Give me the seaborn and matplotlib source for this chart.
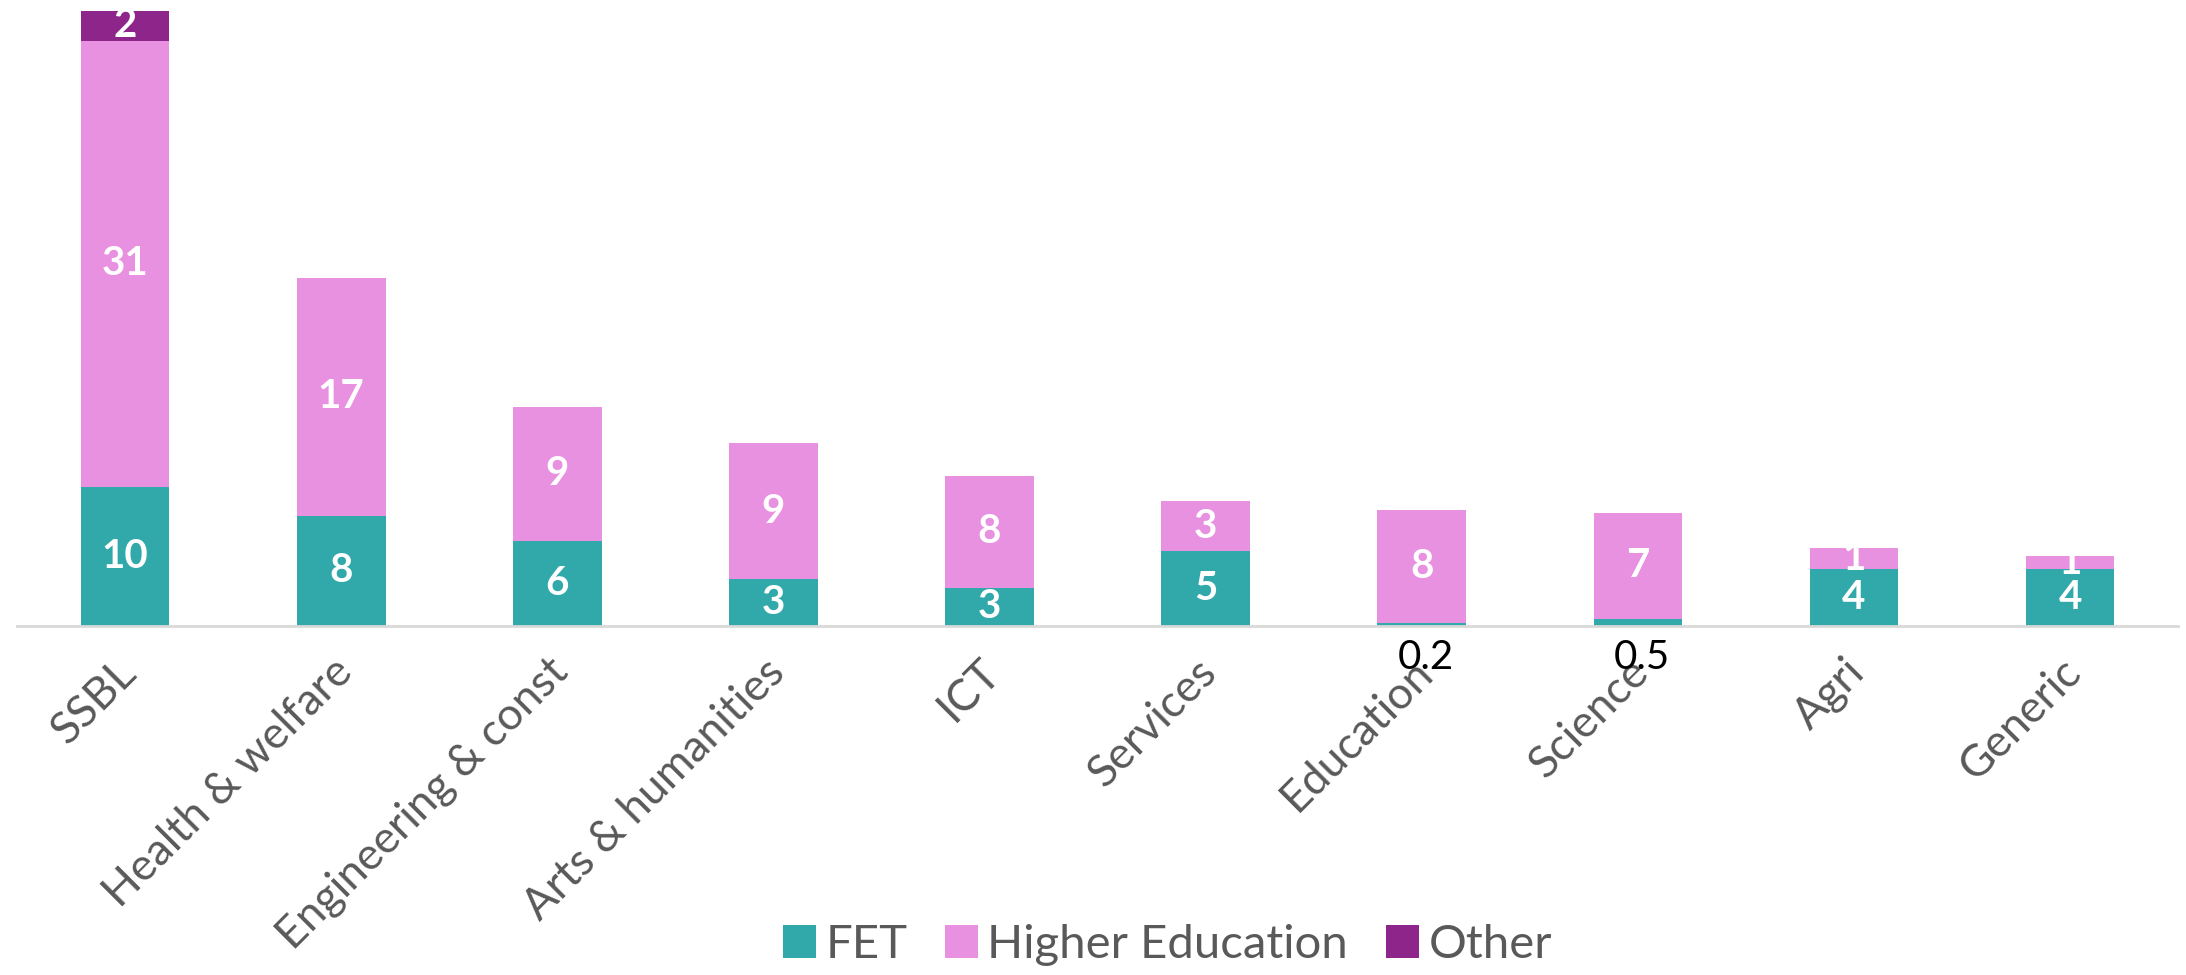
import matplotlib
matplotlib.use("Agg")
import matplotlib.pyplot as plt
import matplotlib.transforms as mtransforms
from matplotlib.patches import Patch
import seaborn as sns
import pandas as pd
import numpy as np

categories = ["SSBL", "Health & welfare", "Engineering & const", "Arts & humanities",
              "ICT", "Services", "Education", "Science", "Agri", "Generic"]
fet = [9.7, 7.7, 5.95, 3.3, 2.65, 5.25, 0.2, 0.5, 4.0, 4.0]
higher_ed = [31.2, 16.6, 9.35, 9.45, 7.85, 3.45, 7.9, 7.4, 1.45, 0.87]
other = [2.1, 0, 0, 0, 0, 0, 0, 0, 0, 0]

series_names = ["FET", "Higher Education", "Other"]
colors = ["#31A9AB", "#E891E0", "#8E258B"]

sns.set_theme(style="white")
plt.rcParams['font.family'] = ['Lato', 'DejaVu Sans']

fig = plt.figure(figsize=(21.86, 9.75), dpi=100)
ax = fig.add_axes([0.0078, 0.358, 0.9886, 0.637])

df = pd.DataFrame({"category": categories, "FET": fet,
                   "Higher Education": higher_ed, "Other": other})
cum_fet = df["FET"]
cum_he = cum_fet + df["Higher Education"]
cum_all = cum_he + df["Other"]

# stacked bars: draw cumulative totals, tallest first
for cum, col in [(cum_all, colors[2]), (cum_he, colors[1]), (cum_fet, colors[0])]:
    sns.barplot(x=df["category"], y=cum, color=col, ax=ax, width=0.41,
                saturation=1, linewidth=0, errorbar=None)

# data labels
bottoms = np.zeros(len(categories))
for name in series_names:
    vals = df[name].to_numpy()
    for i, (v, b) in enumerate(zip(vals, bottoms)):
        if v <= 0:
            continue
        if name == "FET" and v < 1:
            ax.text(i + 0.02, -2.2, f"{v:g}", ha="center", va="center", fontsize=29,
                    color="black", zorder=5)
        else:
            ax.text(i, b + v / 2, f"{int(round(v))}", ha="center", va="center",
                    fontsize=29, color="white", fontweight="bold", zorder=5)
    bottoms = bottoms + vals

ax.set_xlim(-0.5, len(categories) - 0.5)
ax.set_ylim(0, 43.4)
ax.set_xticks(np.arange(len(categories)))
ax.set_xticklabels(categories, rotation=45, ha="right", rotation_mode="anchor",
                   fontsize=32, color="#595959")
ax.tick_params(axis="x", length=0, pad=14)
offset = mtransforms.ScaledTranslation(-10 / 100, -6 / 100, fig.dpi_scale_trans)
for lab in ax.get_xticklabels():
    lab.set_transform(lab.get_transform() + offset)
    lab.set_zorder(1)
ax.set_yticks([])
ax.set_xlabel("")
ax.set_ylabel("")
for s in ["top", "right", "left"]:
    ax.spines[s].set_visible(False)
ax.spines["bottom"].set_color("#D9D9D9")
ax.spines["bottom"].set_linewidth(2)

handles = [Patch(facecolor=c, edgecolor="none", label=n) for n, c in zip(series_names, colors)]
fig.legend(handles=handles, loc="center", bbox_to_anchor=(0.534, 0.031), ncol=3,
           frameon=False, fontsize=34, handlelength=0.7, handleheight=0.7,
           handletextpad=0.2, columnspacing=0.8, labelcolor="#595959")

fig.savefig("out.png", dpi=100)
